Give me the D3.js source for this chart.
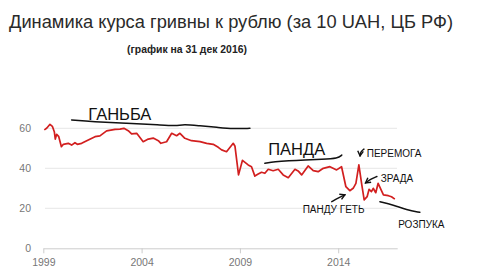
<!DOCTYPE html>
<html><head><meta charset="utf-8">
<script src="https://cdn.jsdelivr.net/npm/d3@7"></script>
<style>
html,body{margin:0;padding:0;background:#fff;}
svg{display:block;font-family:"Liberation Sans",Arial,sans-serif;}
</style></head>
<body><svg id="c" width="480" height="280"></svg>
<script>
const years = [1999.05,1999.17,1999.34,1999.46,1999.56,1999.61,1999.68,1999.78,1999.92,2000.02,2000.27,2000.44,2000.61,2000.73,2000.95,2001.21,2001.63,2001.88,2002.22,2002.65,2002.90,2003.10,2003.32,2003.49,2003.75,2004.08,2004.34,2004.59,2004.85,2004.98,2005.27,2005.53,2005.78,2005.95,2006.20,2006.54,2006.97,2007.31,2007.64,2007.90,2008.07,2008.32,2008.66,2008.75,2008.93,2009.13,2009.42,2009.59,2009.76,2009.93,2010.10,2010.27,2010.44,2010.69,2010.95,2011.20,2011.46,2011.80,2011.96,2012.14,2012.47,2012.73,2012.98,2013.24,2013.58,2013.92,2014.17,2014.39,2014.59,2014.76,2014.90,2015.05,2015.20,2015.32,2015.47,2015.57,2015.69,2015.78,2015.91,2016.03,2016.17,2016.30,2016.55,2016.71,2016.88];
const values = [59.2,60,62,61,58.3,54.6,57,56,50.8,52,52.5,51.6,52.8,52,52.5,53.8,55.8,56.2,58.7,59.5,59.6,60,58.8,57.2,57.5,53.3,54.6,55.1,53.8,52.5,53.3,57.5,56.3,57.5,55,53.8,53.3,52.5,52,50.5,49.2,48.3,52.5,51,36.7,44,41.7,40.8,36.1,37.1,38,37.5,39.5,38.8,39.5,36.7,35.3,39.5,38.7,36.7,41.2,38.8,38.3,40,40.8,39.2,40.8,30.8,28.8,30,32.5,41.7,31.7,24.2,25.8,29.5,28.3,30,27.8,32.5,29.5,26.7,26.3,25.8,24.6];
const yTicks = [0,20,40,60];
const xTicks = [1999,2004,2009,2014];
const title = "Динамика курса гривны к рублю (за 10 UAH, ЦБ РФ)";
const subtitle = "(график на 31 дек 2016)";

// annotation strokes, in data units [year, value]
const ganbaLine = [[2000.44,64.2],[2001.54,63.3],[2003.24,62.5],[2004.93,61.7],[2005.78,61.2],[2006.12,62],[2006.97,61.2],[2007.82,60.5],[2008.66,59.7],[2009.51,60]];
const pandaLine = [[2010.27,42.5],[2010.78,43.3],[2011.46,43.8],[2012.31,44.2],[2013.16,44.5],[2014.0,45],[2014.18,46.6]];
const rozpukaLine = [[2016.12,23.3],[2016.80,21.7],[2017.48,19.2],[2018.15,18]];
const arrowPeremoga = [[2015.31,49.6],[2015.13,48.2],[2015.11,46.2]];
const arrowZrada = [[2015.97,35.9],[2015.67,34.7],[2015.39,32.7]];
const arrowPandu = [[2013.67,23.3],[2013.99,25.2],[2014.34,26.7]];
const bigLabels = [{t:"ГАНЬБА",x:2001.29,v:64.2},{t:"ПАНДА",x:2010.44,v:46.6}];
const smallLabels = [{t:"ПЕРЕМОГА",x:2015.45,v:45.8},{t:"ЗРАДА",x:2016.16,v:33.3},{t:"ПАНДУ ГЕТЬ",x:2012.19,v:17.5},{t:"РОЗПУКА",x:2017.05,v:10.3}];

const svg = d3.select("#c");
const x = d3.scaleLinear().domain([1999,2017]).range([43.3,397.2]);
const y = d3.scaleLinear().domain([0,60]).range([248.3,128.3]);

svg.append("text").attr("x",9).attr("y",27.5).attr("font-size",18.3).attr("fill","#2a2a2a").text(title);
svg.append("text").attr("x",127).attr("y",53).attr("font-size",10.4).attr("font-weight","bold").attr("fill","#222").text(subtitle);

// grid
svg.append("g").selectAll("line").data(yTicks.filter(d=>d>0)).join("line")
  .attr("x1",45).attr("x2",397).attr("y1",d=>y(d)).attr("y2",d=>y(d))
  .attr("stroke","#e6e6e6").attr("stroke-width",1);

// y labels
svg.append("g").selectAll("text").data(yTicks).join("text")
  .attr("x",31).attr("y",d=>y(d)).attr("dy","0.35em").attr("text-anchor","end")
  .attr("font-size",10.5).attr("fill","#777").text(d=>d);

// x axis
const xa = svg.append("g").attr("transform",`translate(0,${y(0)})`)
  .call(d3.axisBottom(x).tickValues(xTicks).tickFormat(d3.format("d")).tickSize(5).tickSizeOuter(0));
xa.select(".domain").attr("stroke","#ccc");
xa.selectAll(".tick line").attr("stroke","#ccc");
xa.selectAll(".tick text").attr("font-size",10.5).attr("fill","#777").attr("font-family","Liberation Sans, Arial, sans-serif").attr("dy","0.95em");

// red line
const line = d3.line().x((d,i)=>x(years[i])).y((d,i)=>y(values[i]));
svg.append("path").datum(values).attr("d",line).attr("fill","none")
  .attr("stroke","#d21f1f").attr("stroke-width",1.7).attr("stroke-linejoin","round");

// annotations
const aline = d3.line().x(d=>x(d[0])).y(d=>y(d[1])).curve(d3.curveBasis);
[ganbaLine,pandaLine,rozpukaLine].forEach(p=>{
  svg.append("path").attr("d",aline(p)).attr("fill","none").attr("stroke","#111").attr("stroke-width",1.5).attr("stroke-linecap","round");
});
svg.append("defs").append("marker").attr("id","ah").attr("viewBox","0 0 10 10").attr("refX",8).attr("refY",5)
  .attr("markerWidth",5).attr("markerHeight",5).attr("orient","auto")
  .append("path").attr("d","M1,1 L8,5 L1,9").attr("fill","none").attr("stroke","#111").attr("stroke-width",2);
[arrowPeremoga,arrowZrada,arrowPandu].forEach(p=>{
  svg.append("path").attr("d",aline(p)).attr("fill","none").attr("stroke","#111").attr("stroke-width",1.4)
    .attr("stroke-linecap","round").attr("marker-end","url(#ah)");
});
svg.append("g").selectAll("text").data(bigLabels).join("text")
  .attr("x",d=>x(d.x)).attr("y",d=>y(d.v)).attr("font-size",16.5).attr("fill","#111").text(d=>d.t);
svg.append("g").selectAll("text").data(smallLabels).join("text")
  .attr("x",d=>x(d.x)).attr("y",d=>y(d.v)).attr("font-size",10).attr("fill","#111").text(d=>d.t);
</script></body></html>
